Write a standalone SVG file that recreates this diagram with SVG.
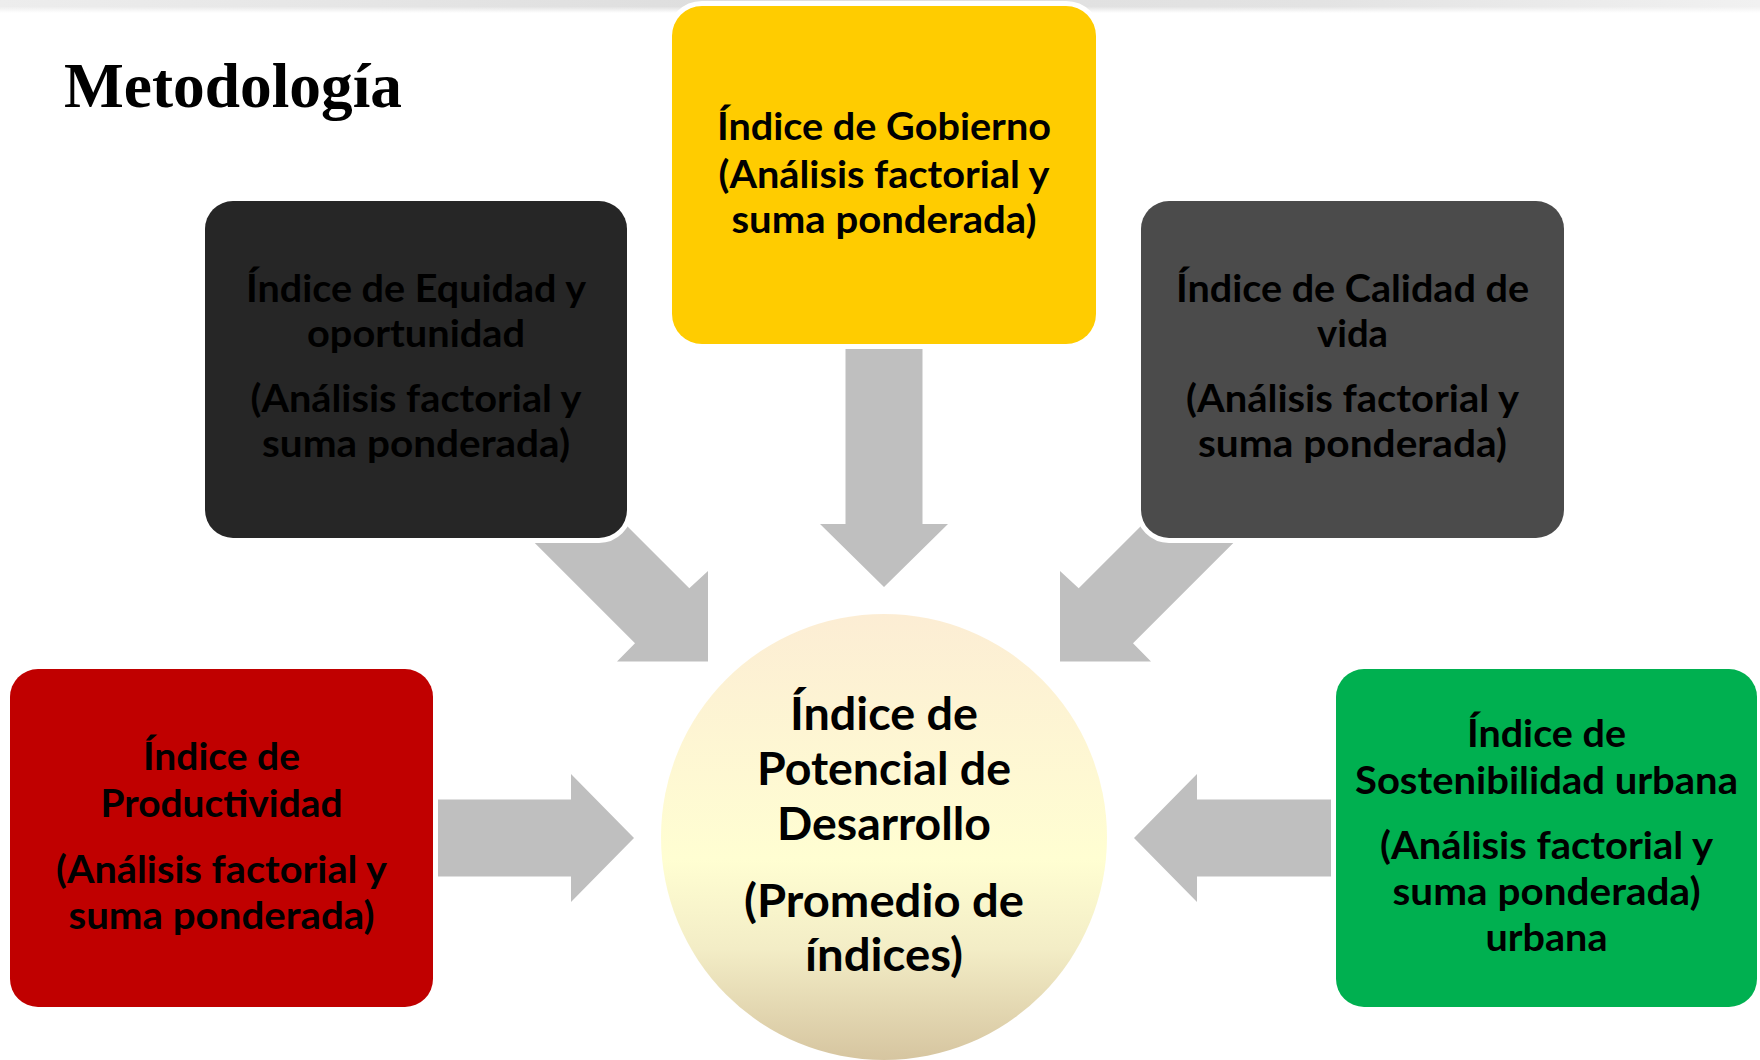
<svg xmlns="http://www.w3.org/2000/svg" width="1760" height="1060" viewBox="0 0 1760 1060">
  <defs>
    <linearGradient id="bandH" x1="0" y1="0" x2="1" y2="0">
      <stop offset="0" stop-color="#ededed"/>
      <stop offset="0.4" stop-color="#dedede"/>
      <stop offset="0.75" stop-color="#e3e3e3"/>
      <stop offset="1" stop-color="#f1f1f1"/>
    </linearGradient>
    <linearGradient id="bandFade" x1="0" y1="0" x2="0" y2="1">
      <stop offset="0.5" stop-color="#ffffff" stop-opacity="0"/>
      <stop offset="1" stop-color="#ffffff" stop-opacity="1"/>
    </linearGradient>
    <linearGradient id="circleFill" x1="0" y1="0" x2="0" y2="1">
      <stop offset="0" stop-color="#FCEDD4"/>
      <stop offset="0.55" stop-color="#FFFED2"/>
      <stop offset="0.75" stop-color="#F3EDC6"/>
      <stop offset="1" stop-color="#D6C5A0"/>
    </linearGradient>
    <style>
      .box { stroke: #ffffff; stroke-width: 10; paint-order: stroke; }
      .arrow { fill: #BFBFBF; }
      .t { font-family: Lato, "Liberation Sans", Arial, sans-serif; font-weight: bold; font-size: 38px; fill: #000000; text-anchor: middle; }
      .tc { font-family: Lato, "Liberation Sans", Arial, sans-serif; font-weight: bold; font-size: 45px; fill: #000000; text-anchor: middle; }
      .title { font-family: "Liberation Serif", "Times New Roman", serif; font-weight: bold; font-size: 64px; fill: #000000; }
    </style>
  </defs>

  <rect x="0" y="0" width="1760" height="1060" fill="#ffffff"/>
  <rect x="0" y="0" width="1760" height="13" fill="url(#bandH)"/>
  <rect x="0" y="0" width="1760" height="13" fill="url(#bandFade)"/>

  <text class="title" x="64" y="107" textLength="338" lengthAdjust="spacingAndGlyphs">Metodología</text>

  <g id="connectors">
    <polygon class="arrow" points="845.5,330 922.5,330 922.5,524 948,524 884,587 820,524 845.5,524"/>
    <polygon class="arrow" points="420,799.5 571,799.5 571,774 634,838 571,902 571,876.5 420,876.5"/>
    <polygon class="arrow" points="1349,799.5 1197,799.5 1197,774 1134,838 1197,902 1197,876.5 1349,876.5"/>
    <polygon class="arrow" points="549.3,448.3 689.3,588.3 708,571 708,661.5 617,661.5 635,643.3 495,503.3"/>
    <polygon class="arrow" points="1218.7,448.3 1078.7,588.3 1060,571 1060,661.5 1151,661.5 1133,643.3 1273,503.3"/>
  </g>

  <g id="node-gobierno">
    <rect class="box" x="672" y="6" width="424" height="338" rx="30" fill="#FFCC00"/>
    <text class="t" x="884" y="140" textLength="334" lengthAdjust="spacingAndGlyphs">Índice de Gobierno</text>
    <text class="t" x="884" y="188" textLength="331" lengthAdjust="spacingAndGlyphs">(Análisis factorial y</text>
    <text class="t" x="884" y="233" textLength="305" lengthAdjust="spacingAndGlyphs">suma ponderada)</text>
  </g>

  <g id="node-equidad">
    <rect class="box" x="205" y="201" width="422" height="337" rx="28" fill="#262626"/>
    <text class="t" x="416" y="302" textLength="340" lengthAdjust="spacingAndGlyphs">Índice de Equidad y</text>
    <text class="t" x="416" y="347" textLength="218" lengthAdjust="spacingAndGlyphs">oportunidad</text>
    <text class="t" x="416" y="412" textLength="331" lengthAdjust="spacingAndGlyphs">(Análisis factorial y</text>
    <text class="t" x="416" y="457" textLength="308" lengthAdjust="spacingAndGlyphs">suma ponderada)</text>
  </g>

  <g id="node-calidad">
    <rect class="box" x="1141" y="201" width="423" height="337" rx="28" fill="#4B4B4B"/>
    <text class="t" x="1352.5" y="302" textLength="353" lengthAdjust="spacingAndGlyphs">Índice de Calidad de</text>
    <text class="t" x="1352.5" y="347" textLength="71" lengthAdjust="spacingAndGlyphs">vida</text>
    <text class="t" x="1352.5" y="412" textLength="333" lengthAdjust="spacingAndGlyphs">(Análisis factorial y</text>
    <text class="t" x="1352.5" y="457" textLength="309" lengthAdjust="spacingAndGlyphs">suma ponderada)</text>
  </g>

  <g id="node-productividad">
    <rect class="box" x="10" y="669" width="423" height="338" rx="28" fill="#C00000"/>
    <text class="t" x="221.5" y="770" textLength="157" lengthAdjust="spacingAndGlyphs">Índice de</text>
    <text class="t" x="221.5" y="817" textLength="242" lengthAdjust="spacingAndGlyphs">Productividad</text>
    <text class="t" x="221.5" y="883" textLength="331" lengthAdjust="spacingAndGlyphs">(Análisis factorial y</text>
    <text class="t" x="221.5" y="929" textLength="306" lengthAdjust="spacingAndGlyphs">suma ponderada)</text>
  </g>

  <g id="node-sostenibilidad">
    <rect class="box" x="1336" y="669" width="421" height="338" rx="28" fill="#00B050"/>
    <text class="t" x="1546.5" y="747" textLength="159" lengthAdjust="spacingAndGlyphs">Índice de</text>
    <text class="t" x="1546.5" y="794" textLength="383" lengthAdjust="spacingAndGlyphs">Sostenibilidad urbana</text>
    <text class="t" x="1546.5" y="859" textLength="333" lengthAdjust="spacingAndGlyphs">(Análisis factorial y</text>
    <text class="t" x="1546.5" y="905" textLength="308" lengthAdjust="spacingAndGlyphs">suma ponderada)</text>
    <text class="t" x="1546.5" y="951" textLength="122" lengthAdjust="spacingAndGlyphs">urbana</text>
  </g>

  <g id="node-centro">
    <circle cx="884" cy="837" r="223" fill="url(#circleFill)"/>
    <text class="tc" x="884" y="730" textLength="188" lengthAdjust="spacingAndGlyphs">Índice de</text>
    <text class="tc" x="884" y="785" textLength="254" lengthAdjust="spacingAndGlyphs">Potencial de</text>
    <text class="tc" x="884" y="840" textLength="214" lengthAdjust="spacingAndGlyphs">Desarrollo</text>
    <text class="tc" x="884" y="917" textLength="280" lengthAdjust="spacingAndGlyphs">(Promedio de</text>
    <text class="tc" x="884" y="971" textLength="158" lengthAdjust="spacingAndGlyphs">índices)</text>
  </g>
</svg>
